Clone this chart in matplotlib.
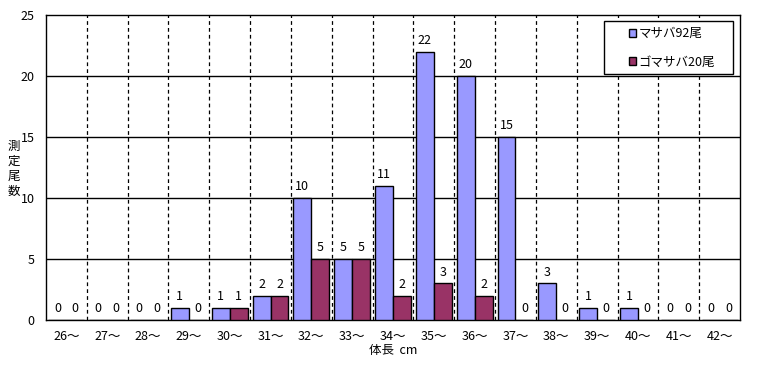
import matplotlib.pyplot as plt
import matplotlib.patches as mpatches
import numpy as np

plt.rcParams['font.family'] = ['Noto Sans CJK JP', 'DejaVu Sans']

### DATA
sizes = ['26～', '27～', '28～', '29～', '30～', '31～', '32～', '33～', '34～',
         '35～', '36～', '37～', '38～', '39～', '40～', '41～', '42～']
masaba = [0, 0, 0, 1, 1, 2, 10, 5, 11, 22, 20, 15, 3, 1, 1, 0, 0]
gomasaba = [0, 0, 0, 0, 1, 2, 5, 5, 2, 3, 2, 0, 0, 0, 0, 0, 0]
labels = ['マサバ92尾', 'ゴマサバ20尾']
colors = ['#9999FF', '#993366']
ylabel = '測定尾数'

### PLOT
W, H = 760, 365
fig = plt.figure(figsize=(7.6, 3.65), dpi=100)
ax = fig.add_axes([0.0605, 0.1233, 0.9132, 0.8356])

x = np.arange(len(sizes))
w = 0.44
b1 = ax.bar(x - w / 2, masaba, w, color=colors[0], edgecolor='black', linewidth=1.0,
            label=labels[0], zorder=3)
b2 = ax.bar(x + w / 2, gomasaba, w, color=colors[1], edgecolor='black', linewidth=1.0,
            label=labels[1], zorder=3)

# value labels above each bar
for bars, vals in ((b1, masaba), (b2, gomasaba)):
    for bar, v in zip(bars, vals):
        ax.annotate(str(v), (bar.get_x() + bar.get_width() / 2, v),
                    xytext=(0, 3.5), textcoords='offset points',
                    ha='center', va='bottom', fontsize=9)

ax.set_xlim(-0.5, len(sizes) - 0.5)
ax.set_ylim(0, 25)
ax.set_yticks([0, 5, 10, 15, 20, 25])
ax.set_xticks(x)
ax.set_xticklabels(sizes, fontsize=9)
ax.tick_params(axis='y', labelsize=9, length=0, pad=8)
ax.tick_params(axis='x', length=0, pad=7)

# grid: solid horizontal, dashed vertical between categories
for yv in [5, 10, 15, 20]:
    ax.axhline(yv, color='black', linewidth=1.0, zorder=1)
for xv in x[:-1] + 0.5:
    ax.axvline(xv, color='black', linewidth=0.9, linestyle=(0, (3, 2.5)), zorder=1)

for s in ax.spines.values():
    s.set_linewidth(1.0)

ax.set_xlabel('体長  cm', fontsize=9, labelpad=1)

# vertical stacked y label, one character per line
for k, ch in enumerate(ylabel):
    fig.text(0.018, 1 - (146 + k * 15) / H, ch, fontsize=9,
             ha='center', va='center')

# legend box drawn separately, entries centred in it
box = mpatches.Rectangle((604 / W, 1 - 74 / H), 129 / W, 53 / H,
                         transform=fig.transFigure, facecolor='white',
                         edgecolor='black', linewidth=1.0, zorder=4)
fig.add_artist(box)
leg = fig.legend(handles=[b1, b2], labels=labels, loc='center',
                 bbox_to_anchor=(672 / W, 1 - 48 / H), fontsize=9,
                 frameon=False, handlelength=0.6, handleheight=0.6,
                 handletextpad=0.2, labelspacing=1.25, borderpad=0)
leg.set_zorder(5)

fig.savefig('out.png', dpi=100)
